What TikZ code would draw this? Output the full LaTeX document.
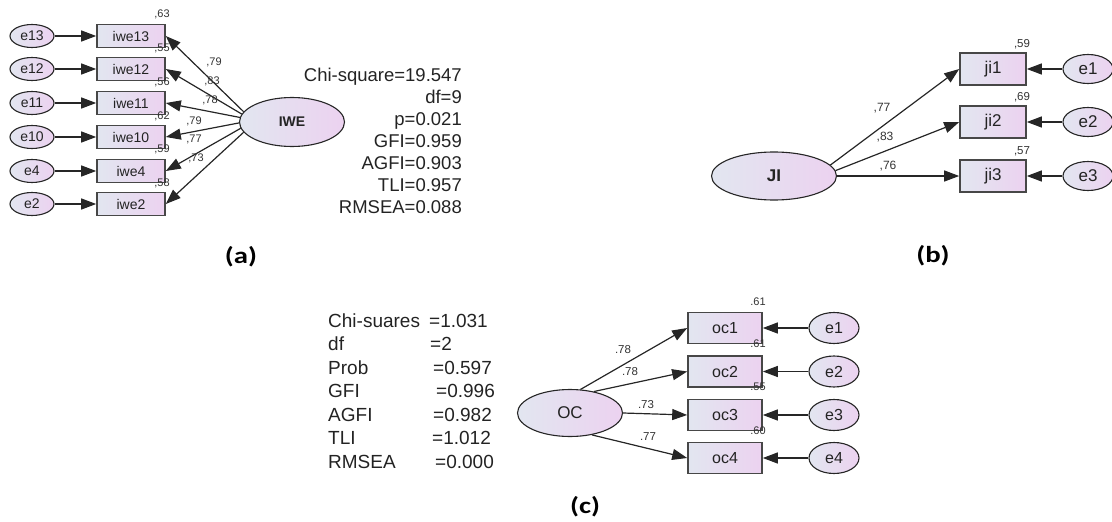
\documentclass[tikz,border=0pt]{standalone}
\usepackage{fontspec}
\setmainfont{Liberation Sans}
\newfontfamily\capfont{Carlito}
\usetikzlibrary{arrows.meta,shapes.geometric}
\definecolor{shL}{RGB}{226,230,240}
\definecolor{shR}{RGB}{236,210,240}
\definecolor{txt}{RGB}{35,35,35}
\tikzset{
 lat/.style={ellipse, draw=black!85, line width=1.1pt, left color=shL, right color=shR, inner sep=0pt, text=txt},
 obs/.style={rectangle, draw=black!72, line width=1.6pt, left color=shL, right color=shR, inner sep=0pt, text=txt},
 arr/.style={-{Triangle[length=15pt,width=11pt]}, line width=1.2pt, draw=black!85},
 sm/.style={font=\fontsize{11}{11}\selectfont, text=black!80, inner sep=0pt},
 fitA/.style={font=\fontsize{18.5}{18.5}\selectfont, text=txt, inner sep=0pt},
 captionlbl/.style={font=\capfont\bfseries\fontsize{23}{23}\selectfont, inner sep=0pt}
}
\begin{document}
\begin{tikzpicture}[x=1pt,y=-1pt]
\useasboundingbox (0,0) rectangle (1112,522);
% ---------- panel (a)
\begin{scope}[every node/.append style={font=\fontsize{14}{14}\selectfont}]
\foreach \n/\y in {13/36,12/69,11/103,10/137,4/171,2/204}{
  \node[lat, minimum width=44pt, minimum height=23pt] (ea\n) at (32,\y) {e\n};
  \node[obs, minimum width=68pt, minimum height=23pt] (iwe\n) at (131,\y) {iwe\n};
  \draw[arr] (ea\n) -- (iwe\n);
}
\end{scope}
\node[lat, minimum width=105pt, minimum height=49pt, font=\bfseries\fontsize{14}{14}\selectfont] (IWE) at (292,122) {IWE};
\draw[arr] (IWE.168) -- (iwe13.east);
\draw[arr] (IWE.171) -- (iwe12.east);
\draw[arr] (IWE.175) -- (iwe11.east);
\draw[arr] (IWE.181) -- (iwe10.east);
\draw[arr] (IWE.187) -- (iwe4.east);
\draw[arr] (IWE.192) -- (iwe2.east);
\node[sm] (la1) at (214,62) {,79};
\node[sm] (la2) at (212,81) {,83};
\node[sm] (la3) at (210,100) {,78};
\node[sm] (la4) at (194,121) {,79};
\node[sm] (la5) at (194,139) {,77};
\node[sm] (la6) at (196,158) {,73};
\node[sm] (ra1) at (162,14) {,63};
\node[sm] (ra2) at (162,48) {,55};
\node[sm] (ra3) at (162,82) {,56};
\node[sm] (ra4) at (162,116) {,62};
\node[sm] (ra5) at (162,149) {,59};
\node[sm] (ra6) at (162,183) {,58};
\node[fitA, anchor=base east] (fa1) at (462,81) {Chi-square=19.547};
\node[fitA, anchor=base east] (fa2) at (462,103) {df=9};
\node[fitA, anchor=base east] (fa3) at (462,125) {p=0.021};
\node[fitA, anchor=base east] (fa4) at (462,147) {GFI=0.959};
\node[fitA, anchor=base east] (fa5) at (462,169) {AGFI=0.903};
\node[fitA, anchor=base east] (fa6) at (462,191) {TLI=0.957};
\node[fitA, anchor=base east] (fa7) at (462,213) {RMSEA=0.088};
\node[captionlbl] (capa) at (241,257) {\scalebox{1.25}[1]{(a)}};
% ---------- panel (b)
\node[lat, minimum width=125pt, minimum height=48pt, font=\bfseries\fontsize{17}{17}\selectfont] (JI) at (774,176) {JI};
\begin{scope}[every node/.append style={font=\fontsize{17}{17}\selectfont}]
\foreach \n/\y in {1/69,2/122,3/176}{
  \node[obs, minimum width=66pt, minimum height=32pt] (ji\n) at (993,\y) {ji\n};
  \node[lat, minimum width=50pt, minimum height=29pt] (eb\n) at (1088,\y) {e\n};
  \draw[arr] (eb\n) -- (ji\n);
}
\end{scope}
\draw[arr] (JI.11) -- (ji1.west);
\draw[arr] (JI.5) -- (ji2.west);
\draw[arr] (JI.east) -- (ji3.west);
\node[sm, font=\fontsize{12}{12}\selectfont] (lb1) at (882,108) {,77};
\node[sm, font=\fontsize{12}{12}\selectfont] (lb2) at (885,137) {,83};
\node[sm, font=\fontsize{12}{12}\selectfont] (lb3) at (888,166) {,76};
\node[sm, font=\fontsize{11.5}{11.5}\selectfont] (rb1) at (1022,44) {,59};
\node[sm, font=\fontsize{11.5}{11.5}\selectfont] (rb2) at (1022,97) {,69};
\node[sm, font=\fontsize{11.5}{11.5}\selectfont] (rb3) at (1022,151) {,57};
\node[captionlbl] (capb) at (933,256) {\scalebox{1.25}[1]{(b)}};
% ---------- panel (c)
\foreach \l/\v/\w/\y [count=\i] in {Chi-suares/=1.031/101/327,df/=2/102/350.5,Prob/=0.597/105/374,GFI/=0.996/108/397.5,AGFI/=0.982/105/421,TLI/=1.012/104/444.5,RMSEA/=0.000/107/468}{
  \node[fitA, font=\fontsize{19}{19}\selectfont, anchor=base west] (fc\i) at (328,\y) {\makebox[\w pt][l]{\l}\v};
}
\node[lat, minimum width=105pt, minimum height=47pt, font=\fontsize{17}{17}\selectfont] (OC) at (570,413) {OC};
\begin{scope}[every node/.append style={font=\fontsize{16}{16}\selectfont}]
\foreach \n/\y in {1/328,2/371.5,3/415,4/458}{
  \node[obs, minimum width=74pt, minimum height=31pt] (oc\n) at (725,\y) {oc\n};
  \node[lat, minimum width=50pt, minimum height=31pt] (ec\n) at (834,\y) {e\n};
  \draw[arr] (ec\n) -- (oc\n);
}
\end{scope}
\draw[arr] (OC.66) -- (oc1.west);
\draw[arr] (OC.42) -- (oc2.west);
\draw[arr] (OC.east) -- (oc3.west);
\draw[arr] (OC.-45) -- (oc4.west);
\node[sm, font=\fontsize{11.5}{11.5}\selectfont] (lc1) at (623,350) {.78};
\node[sm, font=\fontsize{11.5}{11.5}\selectfont] (lc2) at (630,372) {.78};
\node[sm, font=\fontsize{11.5}{11.5}\selectfont] (lc3) at (646,405) {.73};
\node[sm, font=\fontsize{11.5}{11.5}\selectfont] (lc4) at (648,437) {.77};
\node[sm] (rc1) at (758,302) {.61};
\node[sm] (rc2) at (758,344) {.61};
\node[sm] (rc3) at (758,387) {.55};
\node[sm] (rc4) at (758,431) {.60};
\node[captionlbl] (capc) at (585,507) {\scalebox{1.25}[1]{(c)}};
\end{tikzpicture}
\end{document}
